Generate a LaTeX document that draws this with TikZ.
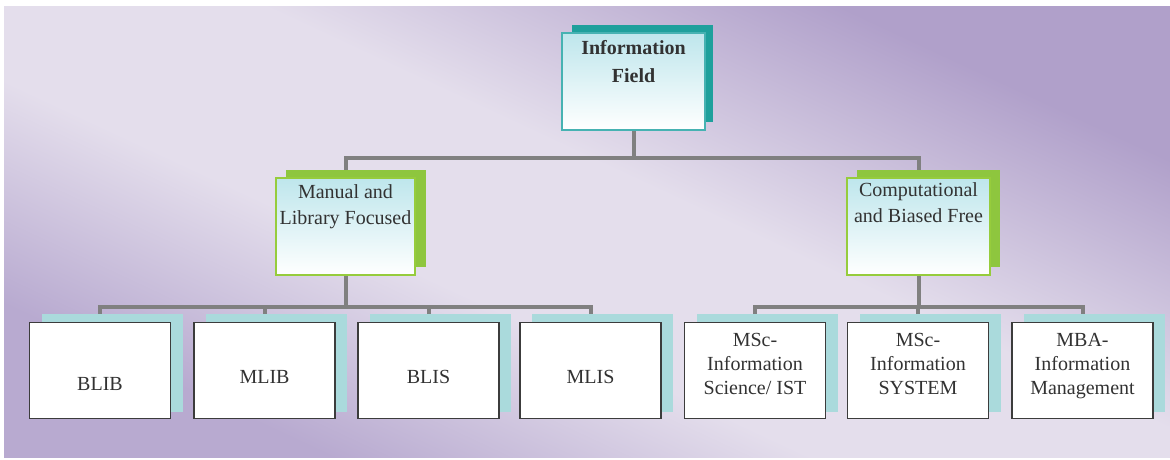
\documentclass[tikz,border=0pt]{standalone}
\usepackage{fontspec}
\setmainfont{Liberation Serif}
\newfontfamily\tnr{Liberation Serif}
\usetikzlibrary{backgrounds,calc}
\definecolor{bgdark}{RGB}{176,160,202}
\definecolor{bgdarkb}{RGB}{184,170,208}
\definecolor{bglight}{RGB}{228,222,236}
\definecolor{linegray}{RGB}{128,128,128}
\definecolor{tealdark}{RGB}{30,160,156}
\definecolor{tealline}{RGB}{70,178,178}
\definecolor{greendark}{RGB}{142,198,62}
\definecolor{greenline}{RGB}{150,204,60}
\definecolor{lightcyan}{RGB}{190,230,236}
\definecolor{palecyan}{RGB}{170,218,220}
\definecolor{boxline}{RGB}{60,60,60}
\definecolor{txt}{RGB}{50,50,50}
\pgfdeclareverticalshading{bgshade}{100bp}{color(0bp)=(bgdarkb); color(27bp)=(bgdarkb); color(42bp)=(bglight); color(55bp)=(bglight); color(73bp)=(bgdark); color(100bp)=(bgdark)}
\tikzset{
  conn/.style={draw=linegray, line width=4pt},
  shbox/.style={draw=none, inner sep=0pt, minimum width=#1, minimum height=97pt},
  topfront/.style={draw=tealline, line width=1.5pt, top color=lightcyan, bottom color=white, inner sep=0pt, text=txt},
  midfront/.style={draw=greenline, line width=2pt, top color=lightcyan, bottom color=white, inner sep=0pt, text=txt},
  lowfront/.style={draw=boxline, line width=1.6pt, fill=white, inner sep=0pt, text=txt},
}
\newcommand{\cbox}[5]{\parbox[c][#2][t]{#1}{\centering\tnr\fontsize{20}{#4}\selectfont\vspace*{#3}#5\par}}
\begin{document}
\begin{tikzpicture}[x=1pt,y=-1pt]
\useasboundingbox (0,0) rectangle (1170,460);
% shadows
\node[shbox=141pt, fill=tealdark] (topsh) at (642.5,73.5) {};
\node[shbox=140pt, fill=greendark] (mlsh) at (356,218) {};
\node[shbox=143pt, fill=greendark] (mrsh) at (928.5,218) {};
\foreach \n/\x in {blib/100, mlib/264.5, blis/428.5, mlis/590.5, msci/755, mscs/918, mba/1082.5}{
  \node[shbox=141pt, minimum height=98pt, fill=palecyan] (\n sh) at (\x+12,363) {};
}
% fronts
\node[topfront] (top) at (633.5,81.5) {\cbox{143pt}{97pt}{7pt}{28pt}{\bfseries Information\\Field}};
\node[midfront] (ml) at (345.5,226.5) {\cbox{139pt}{97pt}{7pt}{26pt}{Manual and\\Library Focused}};
\node[midfront] (mr) at (918.5,226.5) {\cbox{143pt}{97pt}{5pt}{26pt}{Computational\\and Biased Free}};
\node[lowfront] (blib) at (100,370.5) {\cbox{141pt}{96pt}{55pt}{24pt}{BLIB}};
\node[lowfront] (mlib) at (264.5,370.5) {\cbox{141pt}{96pt}{48pt}{24pt}{MLIB}};
\node[lowfront] (blis) at (428.5,370.5) {\cbox{141pt}{96pt}{48pt}{24pt}{BLIS}};
\node[lowfront] (mlis) at (590.5,370.5) {\cbox{141pt}{96pt}{48pt}{24pt}{MLIS}};
\node[lowfront] (msci) at (755,370.5) {\cbox{141pt}{96pt}{11pt}{24pt}{MSc-\\Information\\Science/ IST}};
\node[lowfront] (mscs) at (918,370.5) {\cbox{141pt}{96pt}{11pt}{24pt}{MSc-\\Information\\SYSTEM}};
\node[lowfront] (mba) at (1082.5,370.5) {\cbox{141pt}{96pt}{11pt}{24pt}{MBA-\\Information\\Management}};
\begin{scope}[on background layer]
  \fill[white] (0,0) rectangle (1170,460);
  \shade[shading=bgshade, shading angle=-25] (4,7) rectangle (1170,457);
  \coordinate (tbus) at ($(top.south)+(0,27)$);
  \coordinate (lbus) at ($(ml.south)+(0,31)$);
  \coordinate (rbus) at ($(mr.south)+(0,31)$);
  \draw[conn] (top.south) -- (tbus);
  \draw[conn] (ml.north) |- (tbus) -| (mr.north);
  \draw[conn] (ml.south) -- (lbus);
  \draw[conn] (blib.north) |- (lbus) -| (mlis.north);
  \draw[conn] (mlib.north) -- (mlib.north |- lbus);
  \draw[conn] (blis.north) -- (blis.north |- lbus);
  \draw[conn] (mr.south) -- (rbus);
  \draw[conn] (msci.north) |- (rbus) -| (mba.north);
  \draw[conn] (mscs.north) -- (mscs.north |- rbus);
\end{scope}
\end{tikzpicture}
\end{document}
